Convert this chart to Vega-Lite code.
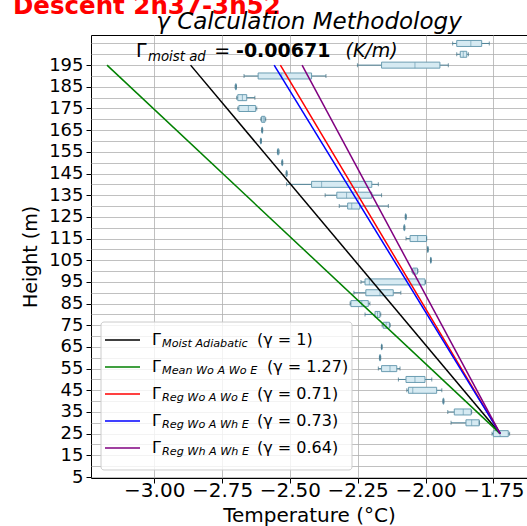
{
  "$schema": "https://vega.github.io/schema/vega-lite/v6.json",
  "width": 436,
  "height": 443,
  "autosize": {"type": "none"},
  "padding": {"left": 91, "top": 35, "right": 0, "bottom": 48},
  "background": "white",
  "config": {
    "font": "DejaVu Sans",
    "view": {"stroke": "black", "strokeWidth": 1},
    "axis": {
      "labelColor": "black",
      "titleColor": "black",
      "tickColor": "black",
      "domain": false,
      "titleFontWeight": "normal",
      "gridColor": "#b0b0b0",
      "gridWidth": 0.8,
      "labelFont": "DejaVu Sans",
      "titleFont": "DejaVu Sans"
    }
  },
  "datasets": {
    "boxes": [
      {"h": 205, "lo": -1.900, "q1": -1.885, "med": -1.833, "q3": -1.793, "hi": -1.765},
      {"h": 200, "lo": -1.885, "q1": -1.872, "med": -1.861, "q3": -1.848, "hi": -1.842},
      {"h": 195, "lo": -2.251, "q1": -2.162, "med": -2.039, "q3": -1.947, "hi": -1.916},
      {"h": 190, "lo": -2.669, "q1": -2.617, "med": -2.530, "q3": -2.420, "hi": -2.367},
      {"h": 185, "lo": -2.702, "q1": -2.700, "med": -2.699, "q3": -2.698, "hi": -2.697},
      {"h": 180, "lo": -2.696, "q1": -2.692, "med": -2.675, "q3": -2.659, "hi": -2.629},
      {"h": 175, "lo": -2.692, "q1": -2.688, "med": -2.653, "q3": -2.626, "hi": -2.622},
      {"h": 170, "lo": -2.607, "q1": -2.604, "med": -2.598, "q3": -2.592, "hi": -2.589},
      {"h": 165, "lo": -2.604, "q1": -2.603, "med": -2.602, "q3": -2.601, "hi": -2.600},
      {"h": 160, "lo": -2.609, "q1": -2.608, "med": -2.607, "q3": -2.606, "hi": -2.605},
      {"h": 155, "lo": -2.546, "q1": -2.545, "med": -2.543, "q3": -2.541, "hi": -2.540},
      {"h": 150, "lo": -2.530, "q1": -2.529, "med": -2.528, "q3": -2.527, "hi": -2.526},
      {"h": 145, "lo": -2.514, "q1": -2.513, "med": -2.512, "q3": -2.511, "hi": -2.510},
      {"h": 140, "lo": -2.512, "q1": -2.420, "med": -2.383, "q3": -2.198, "hi": -2.174},
      {"h": 135, "lo": -2.370, "q1": -2.327, "med": -2.291, "q3": -2.198, "hi": -2.162},
      {"h": 130, "lo": -2.318, "q1": -2.287, "med": -2.272, "q3": -2.242, "hi": -2.137},
      {"h": 125, "lo": -2.075, "q1": -2.074, "med": -2.073, "q3": -2.072, "hi": -2.071},
      {"h": 120, "lo": -2.080, "q1": -2.079, "med": -2.078, "q3": -2.077, "hi": -2.076},
      {"h": 115, "lo": -2.072, "q1": -2.057, "med": -2.029, "q3": -1.996, "hi": -1.996},
      {"h": 110, "lo": -1.993, "q1": -1.992, "med": -1.992, "q3": -1.991, "hi": -1.990},
      {"h": 105, "lo": -1.982, "q1": -1.981, "med": -1.981, "q3": -1.980, "hi": -1.979},
      {"h": 100, "lo": -2.050, "q1": -2.047, "med": -2.039, "q3": -2.030, "hi": -2.028},
      {"h": 95, "lo": -2.238, "q1": -2.223, "med": -2.207, "q3": -2.002, "hi": -2.000},
      {"h": 90, "lo": -2.264, "q1": -2.220, "med": -2.168, "q3": -2.119, "hi": -2.091},
      {"h": 85, "lo": -2.278, "q1": -2.275, "med": -2.235, "q3": -2.211, "hi": -2.205},
      {"h": 80, "lo": -2.223, "q1": -2.186, "med": -2.177, "q3": -2.168, "hi": -2.165},
      {"h": 75, "lo": -2.160, "q1": -2.156, "med": -2.145, "q3": -2.133, "hi": -2.130},
      {"h": 65, "lo": -2.163, "q1": -2.162, "med": -2.162, "q3": -2.161, "hi": -2.160},
      {"h": 60, "lo": -2.170, "q1": -2.169, "med": -2.168, "q3": -2.166, "hi": -2.165},
      {"h": 55, "lo": -2.174, "q1": -2.162, "med": -2.131, "q3": -2.106, "hi": -2.094},
      {"h": 50, "lo": -2.100, "q1": -2.072, "med": -2.039, "q3": -2.002, "hi": -1.977},
      {"h": 45, "lo": -2.069, "q1": -2.063, "med": -2.047, "q3": -1.959, "hi": -1.940},
      {"h": 40, "lo": -1.936, "q1": -1.935, "med": -1.934, "q3": -1.933, "hi": -1.932},
      {"h": 35, "lo": -1.918, "q1": -1.894, "med": -1.861, "q3": -1.832, "hi": -1.830},
      {"h": 30, "lo": -1.906, "q1": -1.851, "med": -1.830, "q3": -1.802, "hi": -1.802},
      {"h": 25, "lo": -1.755, "q1": -1.750, "med": -1.725, "q3": -1.695, "hi": -1.690}
    ],
    "lapse": [
      {"series": "Moist Adiabatic", "T": -1.725, "z": 25},
      {"series": "Moist Adiabatic", "T": -2.866, "z": 195},
      {"series": "Mean Wo A Wo E", "T": -1.725, "z": 25},
      {"series": "Mean Wo A Wo E", "T": -3.174, "z": 195},
      {"series": "Reg Wo A Wo E", "T": -1.725, "z": 25},
      {"series": "Reg Wo A Wo E", "T": -2.535, "z": 195},
      {"series": "Reg Wo A Wh E", "T": -1.725, "z": 25},
      {"series": "Reg Wo A Wh E", "T": -2.558, "z": 195},
      {"series": "Reg Wh A Wh E", "T": -1.725, "z": 25},
      {"series": "Reg Wh A Wh E", "T": -2.455, "z": 195}
    ],
    "legend": [
      {"order": 0, "series": "Moist Adiabatic", "gamma": "(γ = 1)"},
      {"order": 1, "series": "Mean Wo A Wo E", "gamma": "(γ = 1.27)"},
      {"order": 2, "series": "Reg Wo A Wo E", "gamma": "(γ = 0.71)"},
      {"order": 3, "series": "Reg Wo A Wh E", "gamma": "(γ = 0.73)"},
      {"order": 4, "series": "Reg Wh A Wh E", "gamma": "(γ = 0.64)"}
    ]
  },
  "layer": [
    {
      "layer": [
        {
          "data": {"name": "boxes"},
          "mark": {"type": "rule", "color": "#4f8296", "strokeWidth": 1},
          "encoding": {
            "x": {
              "field": "lo",
              "type": "quantitative",
              "scale": {"domain": [-3.233, -1.626], "nice": false, "zero": false, "padding": 0},
              "axis": {
                "title": "Temperature (°C)",
                "values": [-3, -2.75, -2.5, -2.25, -2, -1.75],
                "format": ".2f",
                "labelFontSize": 20,
                "titleFontSize": 20,
                "tickSize": 5,
                "labelPadding": -3,
                "titlePadding": 5,
                "labelFlush": false,
                "labelOverlap": false,
                "grid": true
              }
            },
            "x2": {"field": "hi"},
            "y": {
              "field": "h",
              "type": "quantitative",
              "scale": {"domain": [4.54, 208.9], "nice": false, "zero": false, "padding": 0},
              "axis": {
                "title": "Height (m)",
                "values": [5, 15, 25, 35, 45, 55, 65, 75, 85, 95, 105, 115, 125, 135, 145, 155, 165, 175, 185, 195],
                "labelFontSize": 18,
                "titleFontSize": 19,
                "tickSize": 5,
                "labelPadding": 3,
                "titlePadding": 8,
                "labelFlush": false,
                "labelOverlap": false,
                "grid": true
              }
            }
          }
        },
        {
          "data": {"name": "boxes"},
          "mark": {"type": "bar", "orient": "horizontal", "height": 6, "fill": "#d6eaf2", "stroke": "#6b9db2", "strokeWidth": 1},
          "encoding": {
            "x": {"field": "q1", "type": "quantitative"},
            "x2": {"field": "q3"},
            "y": {
              "field": "h",
              "type": "quantitative",
              "scale": {"domain": [4.54, 208.9], "nice": false, "zero": false, "padding": 0},
              "axis": {
                "title": null,
                "values": [10, 20, 30, 40, 50, 60, 70, 80, 90, 100, 110, 120, 130, 140, 150, 160, 170, 180, 190, 200, 205],
                "labels": false,
                "tickSize": 3,
                "grid": true
              }
            }
          }
        },
        {
          "data": {"name": "boxes"},
          "mark": {"type": "tick", "orient": "vertical", "size": 6, "thickness": 1, "color": "#6b9db2"},
          "encoding": {
            "x": {"field": "med", "type": "quantitative"},
            "y": {"field": "h", "type": "quantitative", "axis": null}
          }
        },
        {
          "data": {"name": "boxes"},
          "mark": {"type": "tick", "orient": "vertical", "size": 4, "thickness": 1, "color": "#3f6f83"},
          "encoding": {
            "x": {"field": "lo", "type": "quantitative"},
            "y": {"field": "h", "type": "quantitative", "axis": null}
          }
        },
        {
          "data": {"name": "boxes"},
          "mark": {"type": "tick", "orient": "vertical", "size": 4, "thickness": 1, "color": "#3f6f83"},
          "encoding": {
            "x": {"field": "hi", "type": "quantitative"},
            "y": {"field": "h", "type": "quantitative", "axis": null}
          }
        },
        {
          "data": {"name": "lapse"},
          "mark": {"type": "line", "strokeWidth": 1.5},
          "encoding": {
            "x": {"field": "T", "type": "quantitative"},
            "y": {"field": "z", "type": "quantitative", "axis": null},
            "color": {
              "field": "series",
              "type": "nominal",
              "scale": {
                "domain": ["Moist Adiabatic", "Mean Wo A Wo E", "Reg Wo A Wo E", "Reg Wo A Wh E", "Reg Wh A Wh E"],
                "range": ["#000000", "#008000", "#ff0000", "#0000ff", "#800080"]
              },
              "legend": null
            },
            "order": {"field": "z", "type": "quantitative"}
          }
        },
        {
          "data": {"values": [{}]},
          "mark": {"type": "text", "text": "Descent 2h37-3h52", "align": "left", "baseline": "alphabetic", "fontSize": 24.5, "fontWeight": "bold", "color": "#ff0000"},
          "encoding": {
            "x": {"datum": -3.5205, "type": "quantitative"},
            "y": {"datum": 218.8, "type": "quantitative", "axis": null}
          }
        },
        {
          "data": {"values": [{}]},
          "mark": {"type": "text", "text": "γ Calculation Methodology", "align": "center", "baseline": "alphabetic", "fontSize": 23, "fontStyle": "italic", "color": "black"},
          "encoding": {
            "x": {"datum": -2.4295, "type": "quantitative"},
            "y": {"datum": 211.5, "type": "quantitative", "axis": null}
          }
        },
        {
          "data": {"values": [{}]},
          "mark": {"type": "text", "text": "Γ", "align": "left", "baseline": "alphabetic", "fontSize": 19, "color": "black"},
          "encoding": {
            "x": {"datum": -3.0671, "type": "quantitative"},
            "y": {"datum": 198.75, "type": "quantitative", "axis": null}
          }
        },
        {
          "data": {"values": [{}]},
          "mark": {"type": "text", "text": "moist ad", "align": "left", "baseline": "alphabetic", "fontSize": 13.3, "fontStyle": "italic", "color": "black"},
          "encoding": {
            "x": {"datum": -3.0229, "type": "quantitative"},
            "y": {"datum": 196.9, "type": "quantitative", "axis": null}
          }
        },
        {
          "data": {"values": [{}]},
          "mark": {"type": "text", "text": "=", "align": "left", "baseline": "alphabetic", "fontSize": 19, "color": "black"},
          "encoding": {
            "x": {"datum": -2.7790, "type": "quantitative"},
            "y": {"datum": 198.75, "type": "quantitative", "axis": null}
          }
        },
        {
          "data": {"values": [{}]},
          "mark": {"type": "text", "text": "-0.00671", "align": "left", "baseline": "alphabetic", "fontSize": 19, "fontWeight": "bold", "color": "black"},
          "encoding": {
            "x": {"datum": -2.6985, "type": "quantitative"},
            "y": {"datum": 198.75, "type": "quantitative", "axis": null}
          }
        },
        {
          "data": {"values": [{}]},
          "mark": {"type": "text", "text": "(K/m)", "align": "left", "baseline": "alphabetic", "fontSize": 19, "fontStyle": "italic", "color": "black"},
          "encoding": {
            "x": {"datum": -2.2950, "type": "quantitative"},
            "y": {"datum": 198.75, "type": "quantitative", "axis": null}
          }
        }
      ],
      "resolve": {"axis": {"y": "independent"}}
    },
    {
      "layer": [
        {
          "data": {"values": [{}]},
          "mark": {"type": "rect", "fill": "white", "fillOpacity": 0.8, "stroke": "#cccccc", "strokeWidth": 1, "cornerRadius": 3},
          "encoding": {
            "x": {"datum": -3.1961, "type": "quantitative"},
            "x2": {"datum": -2.2710},
            "y": {
              "datum": -0.67,
              "type": "quantitative",
              "scale": {"domain": [-11.3, 5.107], "reverse": true, "nice": false, "zero": false, "padding": 0},
              "axis": null
            },
            "y2": {"datum": 4.81}
          }
        },
        {
          "data": {"name": "legend"},
          "mark": {"type": "rule", "strokeWidth": 1.5},
          "encoding": {
            "x": {"datum": -3.1814, "type": "quantitative"},
            "x2": {"datum": -3.0524},
            "y": {"field": "order", "type": "quantitative", "axis": null},
            "color": {
              "field": "series",
              "type": "nominal",
              "scale": {
                "domain": ["Moist Adiabatic", "Mean Wo A Wo E", "Reg Wo A Wo E", "Reg Wo A Wh E", "Reg Wh A Wh E"],
                "range": ["#000000", "#008000", "#ff0000", "#0000ff", "#800080"]
              },
              "legend": null
            }
          }
        },
        {
          "data": {"name": "legend"},
          "mark": {"type": "text", "text": "Γ", "align": "left", "baseline": "middle", "fontSize": 16, "color": "black"},
          "encoding": {
            "x": {"datum": -3.0082, "type": "quantitative"},
            "y": {"field": "order", "type": "quantitative", "axis": null}
          }
        },
        {
          "data": {"name": "legend"},
          "mark": {"type": "text", "align": "left", "baseline": "middle", "dy": 4, "fontSize": 11.2, "fontStyle": "italic", "color": "black"},
          "encoding": {
            "x": {"datum": -2.9713, "type": "quantitative"},
            "y": {"field": "order", "type": "quantitative", "axis": null},
            "text": {"field": "series"}
          }
        },
        {
          "data": {"name": "legend"},
          "transform": [{"filter": "datum.order != 1"}],
          "mark": {"type": "text", "align": "left", "baseline": "middle", "fontSize": 16, "color": "black"},
          "encoding": {
            "x": {"datum": -2.6212, "type": "quantitative"},
            "y": {"field": "order", "type": "quantitative", "axis": null},
            "text": {"field": "gamma"}
          }
        },
        {
          "data": {"name": "legend"},
          "transform": [{"filter": "datum.order == 1"}],
          "mark": {"type": "text", "align": "left", "baseline": "middle", "fontSize": 16, "color": "black"},
          "encoding": {
            "x": {"datum": -2.5843, "type": "quantitative"},
            "y": {"field": "order", "type": "quantitative", "axis": null},
            "text": {"field": "gamma"}
          }
        }
      ]
    }
  ],
  "resolve": {"scale": {"y": "independent"}}
}
